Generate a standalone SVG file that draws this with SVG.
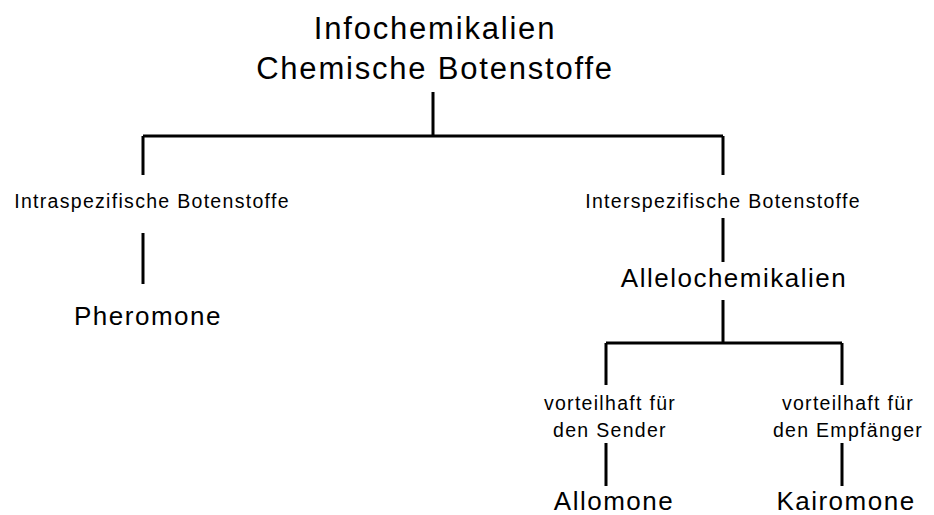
<svg xmlns="http://www.w3.org/2000/svg" width="934" height="515" viewBox="0 0 934 515">
<style>
text{font-family:"Liberation Sans",Arial,sans-serif;fill:#000;text-anchor:middle}
.t{font-size:31px;letter-spacing:1.8px}
.m{font-size:26px;letter-spacing:1.5px}
.s{font-size:19.5px;letter-spacing:1.3px}
.c{fill:none;stroke:#000;stroke-width:3}
</style>
<rect width="934" height="515" fill="#fff"/>
<g id="connectors" class="c">
<path d="M433 92V136M143 136H723M143 136V175M723 136V175"/>
<path d="M143 233V284"/>
<path d="M723 218V262M723 300V343M606 343H842M606 343V385M842 343V385"/>
<path d="M606 443V486M842 443V486"/>
</g>
<g id="root"><text class="t" x="435" y="38.5">Infochemikalien</text><text class="t" x="435" y="78.5">Chemische Botenstoffe</text></g>
<g id="intra"><text class="s" x="152" y="208">Intraspezifische Botenstoffe</text></g>
<g id="pheromone"><text class="m" x="148" y="325">Pheromone</text></g>
<g id="inter"><text class="s" x="723" y="208">Interspezifische Botenstoffe</text></g>
<g id="allelo"><text class="m" x="734" y="287">Allelochemikalien</text></g>
<g id="sender"><text class="s" x="610" y="410">vorteilhaft für</text><text class="s" x="610" y="437">den Sender</text></g>
<g id="empf"><text class="s" x="848" y="410">vorteilhaft für</text><text class="s" x="848" y="437">den Empfänger</text></g>
<g id="allomone"><text class="m" x="614" y="509.5">Allomone</text></g>
<g id="kairomone"><text class="m" x="846" y="509.5">Kairomone</text></g>
</svg>
